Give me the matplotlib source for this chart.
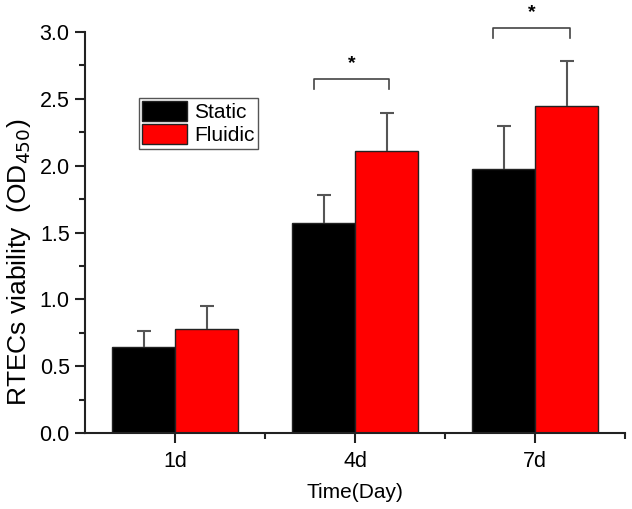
import numpy as np
import matplotlib
matplotlib.use("Agg")
import matplotlib.pyplot as plt
from matplotlib.ticker import MultipleLocator, FixedLocator, FormatStrFormatter

plt.rcParams['font.family'] = ['Liberation Sans', 'DejaVu Sans']

days = ['1d', '4d', '7d']
static = [0.645, 1.568, 1.975]
static_err = [0.12, 0.21, 0.32]
fluidic = [0.776, 2.111, 2.446]
fluidic_err = [0.175, 0.28, 0.34]

# significance brackets: (left x, right x, top y, bottom y)
brackets = [(1.772, 2.189, 2.65, 2.575), (2.767, 3.194, 3.034, 2.957)]


def plot_chart():
    fig = plt.figure(figsize=(6.32, 5.09), dpi=100)
    ax = fig.add_axes([0.1345, 0.1493, 0.989 - 0.1345, 0.937 - 0.1493])

    x = np.arange(1, len(days) + 1)
    w = 0.35
    ekw = dict(ecolor='#555555', elinewidth=1.5, capsize=5, capthick=1.5)
    b1 = ax.bar(x - w / 2, static, w, color='black', edgecolor='#222222', linewidth=1,
                yerr=[np.zeros(3), static_err], error_kw=ekw, label='Static')
    b2 = ax.bar(x + w / 2, fluidic, w, color='#ff0000', edgecolor='#222222', linewidth=1,
                yerr=[np.zeros(3), fluidic_err], error_kw=ekw, label='Fluidic')
    # only upper caps
    for b in (b1, b2):
        b.errorbar.lines[1][0].set_visible(False)

    for x0, x1, top, bot in brackets:
        ax.plot([x0, x0, x1, x1], [bot, top, top, bot], color='#444444', lw=1.2, clip_on=False)
        ax.text((x0 + x1) / 2, top + 0.05, '*', ha='center', va='bottom', fontsize=14,
                fontweight='bold', clip_on=False)

    ax.set_xlim(0.5, 3.5)
    ax.set_ylim(0, 3.0)
    ax.set_xticks(x)
    ax.set_xticklabels(days)
    ax.xaxis.set_minor_locator(FixedLocator([1.5, 2.5, 3.5]))
    ax.yaxis.set_major_locator(MultipleLocator(0.5))
    ax.yaxis.set_minor_locator(MultipleLocator(0.25))
    ax.yaxis.set_major_formatter(FormatStrFormatter('%.1f'))
    ax.tick_params(axis='both', which='major', labelsize=15.5, length=7, width=1.5, color='#222222')
    ax.tick_params(axis='both', which='minor', length=4, width=1.5, color='#222222')
    ax.tick_params(axis='x', pad=6)
    ax.tick_params(axis='y', pad=4)

    for side in ['top', 'right']:
        ax.spines[side].set_visible(False)
    for side in ['left', 'bottom']:
        ax.spines[side].set_linewidth(1.5)
        ax.spines[side].set_color('#222222')

    ax.set_xlabel('Time(Day)', fontsize=15, labelpad=8)
    ax.set_ylabel('RTECs viability  (OD$_{450}$)', fontsize=19, labelpad=5)
    ax.yaxis.label.set_y(0.426)

    leg = ax.legend(loc='upper left', bbox_to_anchor=(139 / 632, 1 - 98 / 509),
                    bbox_transform=fig.transFigure, fontsize=15, fancybox=False,
                    edgecolor='#555555', framealpha=1, borderpad=0.15, labelspacing=0.1,
                    handlelength=2.15, handleheight=1.1, handletextpad=0.35, borderaxespad=0)
    leg.get_frame().set_linewidth(1)

    fig.savefig('out.png', dpi=100)


def main():
    plot_chart()


if __name__ == "__main__":
    main()
